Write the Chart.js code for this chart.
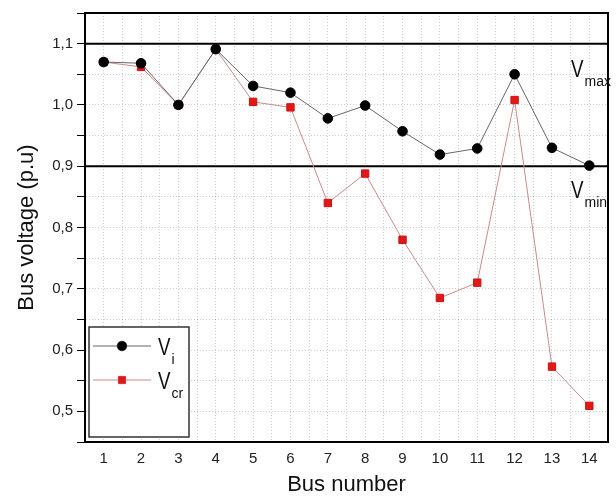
<!DOCTYPE html>
<html>
<head>
<meta charset="utf-8">
<script src="https://cdn.jsdelivr.net/npm/chart.js@4.4.1/dist/chart.umd.min.js"></script>
<style>
  html, body { margin: 0; padding: 0; background: #fff; }
  #wrap { width: 616px; height: 497px; }
</style>
</head>
<body>
<div id="wrap"><canvas id="chart" width="616" height="497"></canvas></div>
<script>
// bus numbers and voltages
var buses = [1, 2, 3, 4, 5, 6, 7, 8, 9, 10, 11, 12, 13, 14];
var vInit = [1.070, 1.068, 1.000, 1.091, 1.031, 1.020, 0.978, 0.999, 0.957, 0.919, 0.929, 1.050, 0.930, 0.901];
var vCrit = [1.070, 1.062, 1.000, 1.091, 1.005, 0.996, 0.840, 0.888, 0.780, 0.685, 0.710, 1.008, 0.573, 0.509];
var vMax = 1.1;
var vMin = 0.9;
var yTickLabels = ['0,5', '0,6', '0,7', '0,8', '0,9', '1,0', '1,1'];

var FONT = "'Liberation Sans', Arial, sans-serif";

function toPoints(xs, ys) {
    return xs.map(function (x, i) { return { x: x, y: ys[i] }; });
}

function limitLine(v) {
    return {
        data: [{ x: 0.5, y: v }, { x: 14.5, y: v }],
        borderColor: '#000',
        borderWidth: 2,
        pointRadius: 0,
        order: 2
    };
}

// V with a subscript, V drawn a bit condensed like the original
function drawSubLabel(ctx, main, sub, x, baseline) {
    ctx.save();
    ctx.fillStyle = '#111';
    ctx.textBaseline = 'alphabetic';
    ctx.textAlign = 'left';
    ctx.font = '24px ' + FONT;
    ctx.save();
    ctx.translate(x, baseline);
    ctx.scale(0.78, 1);
    ctx.fillText(main, 0, 0);
    var w = ctx.measureText(main).width * 0.78;
    ctx.restore();
    ctx.font = '14px ' + FONT;
    ctx.fillText(sub, x + w + 1, baseline + 9);
    ctx.restore();
}

var decorations = {
    id: 'decorations',
    afterDraw: function (chart) {
        var ctx = chart.ctx;
        var a = chart.chartArea;
        var ys = chart.scales.y;

        // frame around plot
        ctx.save();
        ctx.strokeStyle = '#000';
        ctx.lineWidth = 2;
        ctx.strokeRect(a.left, a.top, a.right - a.left, a.bottom - a.top);
        ctx.restore();

        // limit labels
        drawSubLabel(ctx, 'V', 'max', 571, ys.getPixelForValue(vMax) + 33);
        drawSubLabel(ctx, 'V', 'min', 571, ys.getPixelForValue(vMin) + 32);

        // legend box
        var bx = a.left + 4, by = a.bottom - 115, bw = 100, bh = 110;
        ctx.save();
        ctx.fillStyle = '#fff';
        ctx.fillRect(bx, by, bw, bh);
        ctx.strokeStyle = '#333';
        ctx.lineWidth = 1.5;
        ctx.strokeRect(bx, by, bw, bh);

        var rows = [
            { ds: chart.data.datasets[0], y: by + 19, sub: 'i' },
            { ds: chart.data.datasets[1], y: by + 53, sub: 'cr' }
        ];
        rows.forEach(function (r) {
            ctx.strokeStyle = r.ds.borderColor;
            ctx.lineWidth = 1;
            ctx.beginPath();
            ctx.moveTo(bx + 4, r.y);
            ctx.lineTo(bx + 62, r.y);
            ctx.stroke();
            Chart.helpers.drawPoint(ctx, {
                pointStyle: r.ds.pointStyle,
                radius: r.ds.pointRadius,
                borderWidth: 1
            }, bx + 33, r.y);
            ctx.fillStyle = r.ds.pointBackgroundColor;
            ctx.fill();
            drawSubLabel(ctx, 'V', r.sub, bx + 69, r.y + 9);
        });
        ctx.restore();
    }
};

new Chart(document.getElementById('chart'), {
    type: 'line',
    data: {
        datasets: [{
            label: 'Vi',
            data: toPoints(buses, vInit),
            borderColor: '#666',
            borderWidth: 1,
            pointStyle: 'circle',
            pointRadius: 4.8,
            pointBackgroundColor: '#000',
            pointBorderColor: '#000',
            order: 0
        }, {
            label: 'Vcr',
            data: toPoints(buses, vCrit),
            borderColor: '#c98a8a',
            borderWidth: 1,
            pointStyle: 'rect',
            pointRadius: 5.2,
            pointBackgroundColor: '#e01818',
            pointBorderColor: '#d01010',
            order: 1
        },
        limitLine(vMax),
        limitLine(vMin)]
    },
    options: {
        responsive: false,
        animation: false,
        layout: { padding: { top: 9, right: 3, left: 0, bottom: 0 } },
        plugins: {
            legend: { display: false },
            tooltip: { enabled: false }
        },
        scales: {
            x: {
                type: 'linear',
                min: 0.5,
                max: 14.5,
                afterFit: function (s) { s.height = 55; },
                ticks: {
                    stepSize: 0.5,
                    autoSkip: false,
                    maxRotation: 0,
                    padding: 8,
                    color: '#222',
                    font: { family: FONT, size: 15 },
                    callback: function (v) {
                        return Math.abs(v - Math.round(v)) < 1e-6 ? String(Math.round(v)) : '';
                    }
                },
                grid: {
                    color: 'rgba(0,0,0,0.2)',
                    drawTicks: false
                },
                border: { color: '#000', width: 2, dash: [1, 2] },
                title: {
                    display: true,
                    text: 'Bus number',
                    color: '#111',
                    font: { family: FONT, size: 22, lineHeight: 1.0 },
                    padding: { top: 0, bottom: 1 }
                }
            },
            y: {
                min: 0.45,
                max: 1.15,
                afterFit: function (s) { s.width = 85; },
                ticks: {
                    stepSize: 0.05,
                    autoSkip: false,
                    padding: 4,
                    color: '#222',
                    font: { family: FONT, size: 15 },
                    callback: function (v) {
                        var r = Math.round(v * 100);
                        if (r % 10 !== 0) return '';
                        return yTickLabels[r / 10 - 5];
                    }
                },
                grid: {
                    color: 'rgba(0,0,0,0.2)',
                    tickColor: '#000',
                    tickLength: 8,
                    tickBorderDash: []
                },
                border: { color: '#000', width: 2, dash: [1, 2] },
                title: {
                    display: true,
                    text: 'Bus voltage (p.u)',
                    color: '#111',
                    font: { family: FONT, size: 22, lineHeight: 1.2 },
                    padding: { top: 14, bottom: 0 }
                }
            }
        }
    },
    plugins: [decorations]
});
</script>
</body>
</html>
